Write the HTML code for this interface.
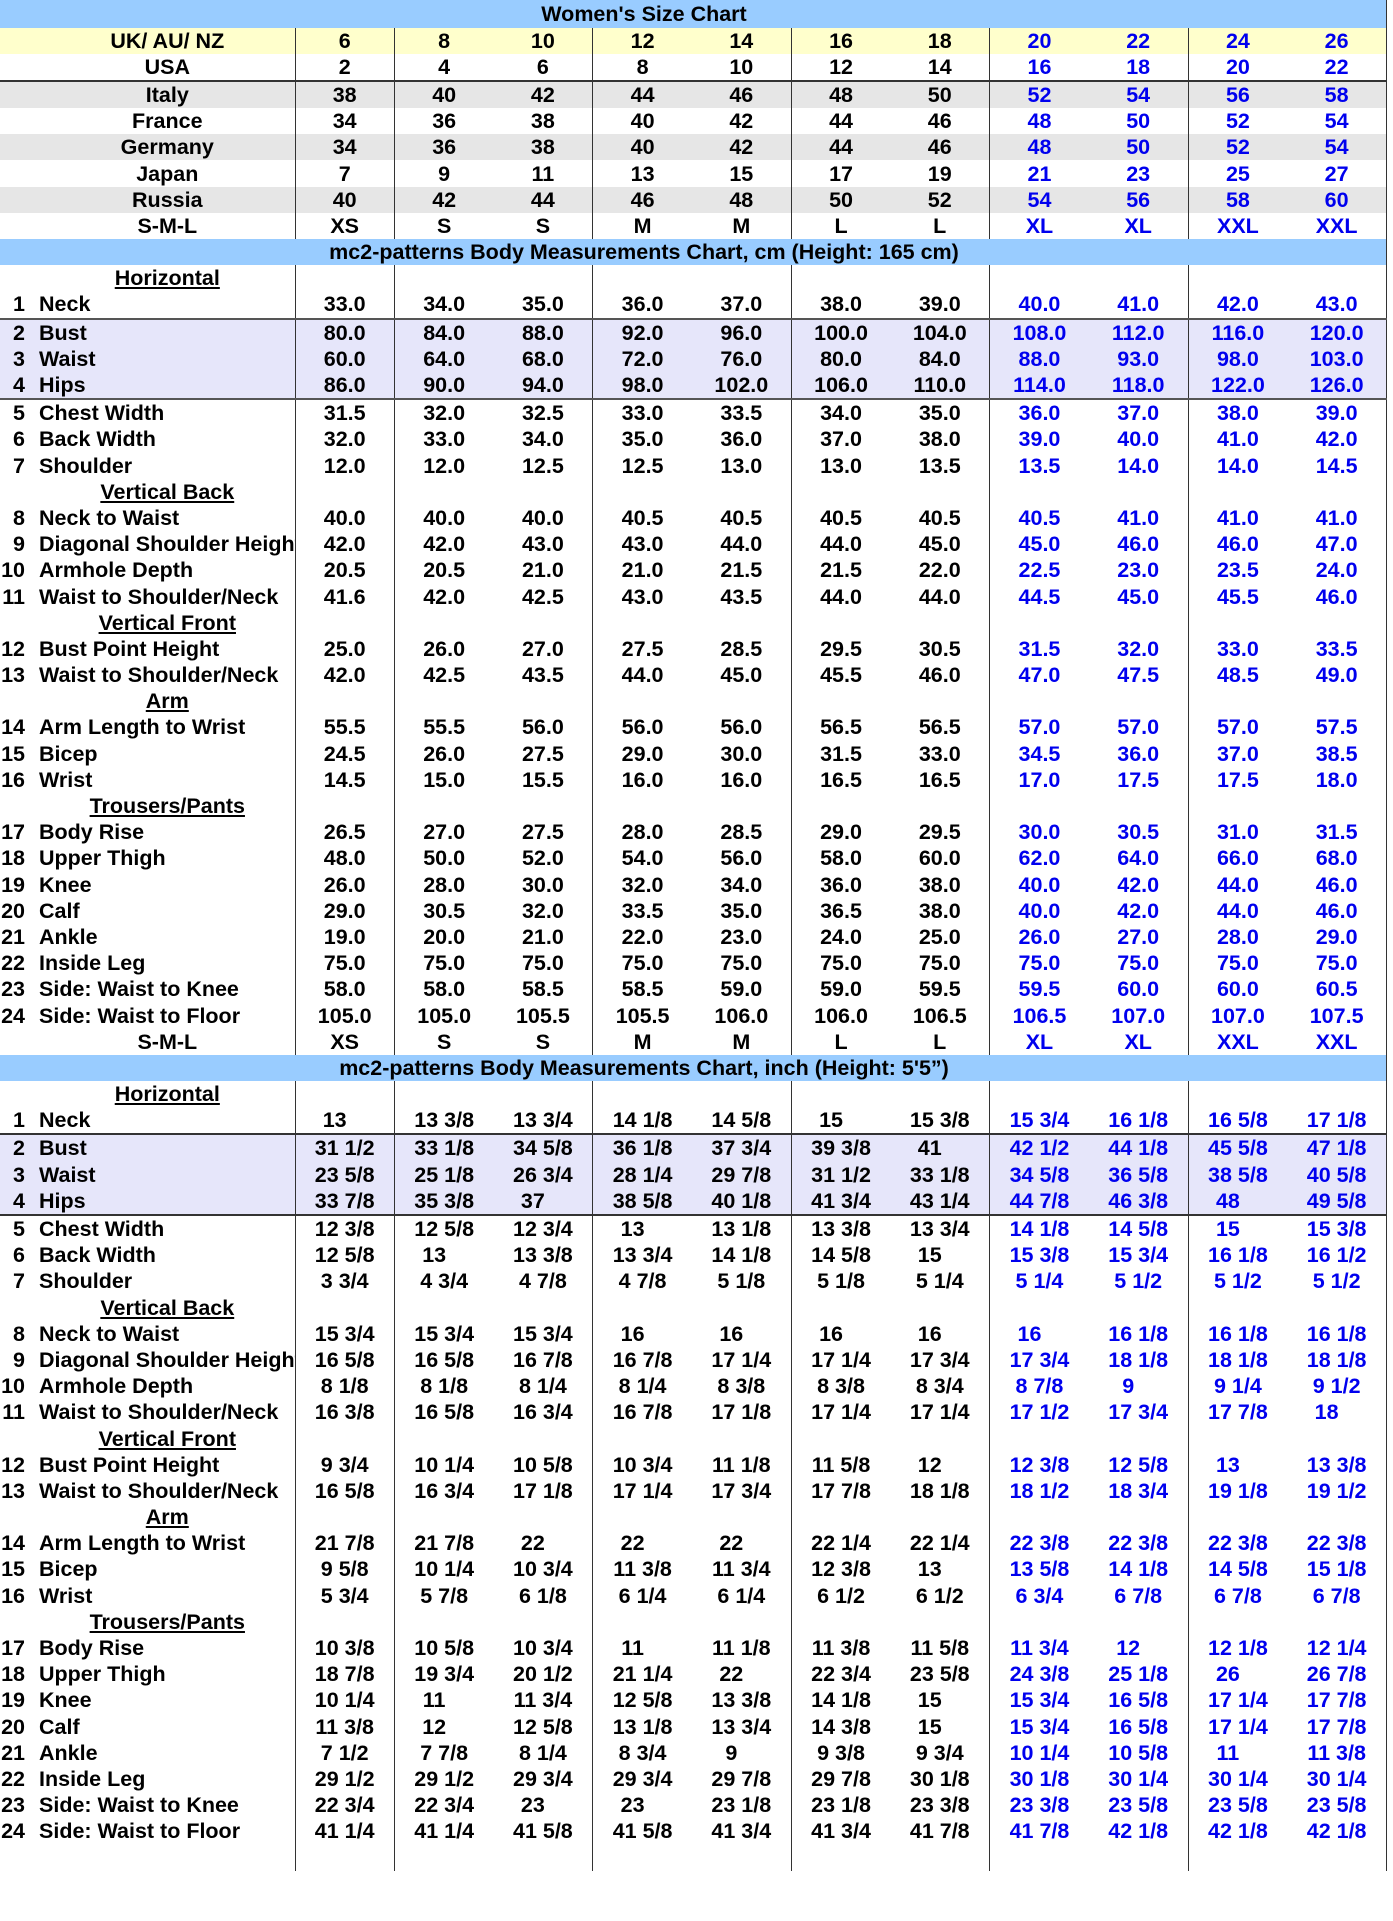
<!DOCTYPE html>
<html><head><meta charset="utf-8"><style>
body{margin:0;background:#fff;width:1393px;height:1921px;overflow:hidden;font-family:"Liberation Sans",Arial,sans-serif;font-weight:bold;font-size:21.5px;color:#000}
table{border-collapse:collapse;table-layout:fixed;width:1387px}
td{height:26.2px;padding:0;text-align:center;vertical-align:middle;white-space:nowrap;overflow:hidden;line-height:26px}
tr>td:nth-child(1){padding-left:40px}
tr>td.l{padding-left:0}
tr>td:nth-child(2),tr>td:nth-child(3),tr>td:nth-child(5),tr>td:nth-child(7),tr>td:nth-child(9),tr>td:nth-child(11){border-left:1px solid #333}
tr>td:nth-child(12){border-right:1px solid #333}
tr>td:nth-child(n+9){color:#0000ee}
tr.t td{background:#99ccff;color:#000;border-left:none;border-right:1px solid #333;padding-left:0;padding-right:98px}
tr.t0 td{height:27.5px}
tr.y td{background:#ffffcc}
tr.g td{background:#e6e6e6}
tr.v td{background:#e6e6fa}
tr.bb td{border-bottom:2px solid #333}
tr.bg td{border-bottom:2px solid #555}
td.l{text-align:left}
td.l i{font-style:normal;display:inline-block;width:25px;text-align:right;margin-right:14px}
td.h{text-decoration:underline}
.w{padding-right:20px}
</style></head><body>
<table>
<colgroup><col style="width:295px"><col span="11" style="width:99.2px"></colgroup>
<tr class="t t0"><td colspan="12">Women's Size Chart</td></tr>
<tr class="y"><td>UK/ AU/ NZ</td><td>6</td><td>8</td><td>10</td><td>12</td><td>14</td><td>16</td><td>18</td><td>20</td><td>22</td><td>24</td><td>26</td></tr>
<tr class="bb"><td>USA</td><td>2</td><td>4</td><td>6</td><td>8</td><td>10</td><td>12</td><td>14</td><td>16</td><td>18</td><td>20</td><td>22</td></tr>
<tr class="g"><td>Italy</td><td>38</td><td>40</td><td>42</td><td>44</td><td>46</td><td>48</td><td>50</td><td>52</td><td>54</td><td>56</td><td>58</td></tr>
<tr><td>France</td><td>34</td><td>36</td><td>38</td><td>40</td><td>42</td><td>44</td><td>46</td><td>48</td><td>50</td><td>52</td><td>54</td></tr>
<tr class="g"><td>Germany</td><td>34</td><td>36</td><td>38</td><td>40</td><td>42</td><td>44</td><td>46</td><td>48</td><td>50</td><td>52</td><td>54</td></tr>
<tr><td>Japan</td><td>7</td><td>9</td><td>11</td><td>13</td><td>15</td><td>17</td><td>19</td><td>21</td><td>23</td><td>25</td><td>27</td></tr>
<tr class="g"><td>Russia</td><td>40</td><td>42</td><td>44</td><td>46</td><td>48</td><td>50</td><td>52</td><td>54</td><td>56</td><td>58</td><td>60</td></tr>
<tr><td>S-M-L</td><td>XS</td><td>S</td><td>S</td><td>M</td><td>M</td><td>L</td><td>L</td><td>XL</td><td>XL</td><td>XXL</td><td>XXL</td></tr>
<tr class="t"><td colspan="12">mc2-patterns Body Measurements Chart, cm (Height: 165 cm)</td></tr>
<tr><td class="h">Horizontal</td><td></td><td></td><td></td><td></td><td></td><td></td><td></td><td></td><td></td><td></td><td></td></tr>
<tr class="bg"><td class="l"><i>1</i>Neck</td><td>33.0</td><td>34.0</td><td>35.0</td><td>36.0</td><td>37.0</td><td>38.0</td><td>39.0</td><td>40.0</td><td>41.0</td><td>42.0</td><td>43.0</td></tr>
<tr class="v"><td class="l"><i>2</i>Bust</td><td>80.0</td><td>84.0</td><td>88.0</td><td>92.0</td><td>96.0</td><td>100.0</td><td>104.0</td><td>108.0</td><td>112.0</td><td>116.0</td><td>120.0</td></tr>
<tr class="v"><td class="l"><i>3</i>Waist</td><td>60.0</td><td>64.0</td><td>68.0</td><td>72.0</td><td>76.0</td><td>80.0</td><td>84.0</td><td>88.0</td><td>93.0</td><td>98.0</td><td>103.0</td></tr>
<tr class="v bg"><td class="l"><i>4</i>Hips</td><td>86.0</td><td>90.0</td><td>94.0</td><td>98.0</td><td>102.0</td><td>106.0</td><td>110.0</td><td>114.0</td><td>118.0</td><td>122.0</td><td>126.0</td></tr>
<tr><td class="l"><i>5</i>Chest Width</td><td>31.5</td><td>32.0</td><td>32.5</td><td>33.0</td><td>33.5</td><td>34.0</td><td>35.0</td><td>36.0</td><td>37.0</td><td>38.0</td><td>39.0</td></tr>
<tr><td class="l"><i>6</i>Back Width</td><td>32.0</td><td>33.0</td><td>34.0</td><td>35.0</td><td>36.0</td><td>37.0</td><td>38.0</td><td>39.0</td><td>40.0</td><td>41.0</td><td>42.0</td></tr>
<tr><td class="l"><i>7</i>Shoulder</td><td>12.0</td><td>12.0</td><td>12.5</td><td>12.5</td><td>13.0</td><td>13.0</td><td>13.5</td><td>13.5</td><td>14.0</td><td>14.0</td><td>14.5</td></tr>
<tr><td class="h">Vertical Back</td><td></td><td></td><td></td><td></td><td></td><td></td><td></td><td></td><td></td><td></td><td></td></tr>
<tr><td class="l"><i>8</i>Neck to Waist</td><td>40.0</td><td>40.0</td><td>40.0</td><td>40.5</td><td>40.5</td><td>40.5</td><td>40.5</td><td>40.5</td><td>41.0</td><td>41.0</td><td>41.0</td></tr>
<tr><td class="l"><i>9</i>Diagonal Shoulder Height</td><td>42.0</td><td>42.0</td><td>43.0</td><td>43.0</td><td>44.0</td><td>44.0</td><td>45.0</td><td>45.0</td><td>46.0</td><td>46.0</td><td>47.0</td></tr>
<tr><td class="l"><i>10</i>Armhole Depth</td><td>20.5</td><td>20.5</td><td>21.0</td><td>21.0</td><td>21.5</td><td>21.5</td><td>22.0</td><td>22.5</td><td>23.0</td><td>23.5</td><td>24.0</td></tr>
<tr><td class="l"><i>11</i>Waist to Shoulder/Neck</td><td>41.6</td><td>42.0</td><td>42.5</td><td>43.0</td><td>43.5</td><td>44.0</td><td>44.0</td><td>44.5</td><td>45.0</td><td>45.5</td><td>46.0</td></tr>
<tr><td class="h">Vertical Front</td><td></td><td></td><td></td><td></td><td></td><td></td><td></td><td></td><td></td><td></td><td></td></tr>
<tr><td class="l"><i>12</i>Bust Point Height</td><td>25.0</td><td>26.0</td><td>27.0</td><td>27.5</td><td>28.5</td><td>29.5</td><td>30.5</td><td>31.5</td><td>32.0</td><td>33.0</td><td>33.5</td></tr>
<tr><td class="l"><i>13</i>Waist to Shoulder/Neck</td><td>42.0</td><td>42.5</td><td>43.5</td><td>44.0</td><td>45.0</td><td>45.5</td><td>46.0</td><td>47.0</td><td>47.5</td><td>48.5</td><td>49.0</td></tr>
<tr><td class="h">Arm</td><td></td><td></td><td></td><td></td><td></td><td></td><td></td><td></td><td></td><td></td><td></td></tr>
<tr><td class="l"><i>14</i>Arm Length to Wrist</td><td>55.5</td><td>55.5</td><td>56.0</td><td>56.0</td><td>56.0</td><td>56.5</td><td>56.5</td><td>57.0</td><td>57.0</td><td>57.0</td><td>57.5</td></tr>
<tr><td class="l"><i>15</i>Bicep</td><td>24.5</td><td>26.0</td><td>27.5</td><td>29.0</td><td>30.0</td><td>31.5</td><td>33.0</td><td>34.5</td><td>36.0</td><td>37.0</td><td>38.5</td></tr>
<tr><td class="l"><i>16</i>Wrist</td><td>14.5</td><td>15.0</td><td>15.5</td><td>16.0</td><td>16.0</td><td>16.5</td><td>16.5</td><td>17.0</td><td>17.5</td><td>17.5</td><td>18.0</td></tr>
<tr><td class="h">Trousers/Pants</td><td></td><td></td><td></td><td></td><td></td><td></td><td></td><td></td><td></td><td></td><td></td></tr>
<tr><td class="l"><i>17</i>Body Rise</td><td>26.5</td><td>27.0</td><td>27.5</td><td>28.0</td><td>28.5</td><td>29.0</td><td>29.5</td><td>30.0</td><td>30.5</td><td>31.0</td><td>31.5</td></tr>
<tr><td class="l"><i>18</i>Upper Thigh</td><td>48.0</td><td>50.0</td><td>52.0</td><td>54.0</td><td>56.0</td><td>58.0</td><td>60.0</td><td>62.0</td><td>64.0</td><td>66.0</td><td>68.0</td></tr>
<tr><td class="l"><i>19</i>Knee</td><td>26.0</td><td>28.0</td><td>30.0</td><td>32.0</td><td>34.0</td><td>36.0</td><td>38.0</td><td>40.0</td><td>42.0</td><td>44.0</td><td>46.0</td></tr>
<tr><td class="l"><i>20</i>Calf</td><td>29.0</td><td>30.5</td><td>32.0</td><td>33.5</td><td>35.0</td><td>36.5</td><td>38.0</td><td>40.0</td><td>42.0</td><td>44.0</td><td>46.0</td></tr>
<tr><td class="l"><i>21</i>Ankle</td><td>19.0</td><td>20.0</td><td>21.0</td><td>22.0</td><td>23.0</td><td>24.0</td><td>25.0</td><td>26.0</td><td>27.0</td><td>28.0</td><td>29.0</td></tr>
<tr><td class="l"><i>22</i>Inside Leg</td><td>75.0</td><td>75.0</td><td>75.0</td><td>75.0</td><td>75.0</td><td>75.0</td><td>75.0</td><td>75.0</td><td>75.0</td><td>75.0</td><td>75.0</td></tr>
<tr><td class="l"><i>23</i>Side: Waist to Knee</td><td>58.0</td><td>58.0</td><td>58.5</td><td>58.5</td><td>59.0</td><td>59.0</td><td>59.5</td><td>59.5</td><td>60.0</td><td>60.0</td><td>60.5</td></tr>
<tr><td class="l"><i>24</i>Side: Waist to Floor</td><td>105.0</td><td>105.0</td><td>105.5</td><td>105.5</td><td>106.0</td><td>106.0</td><td>106.5</td><td>106.5</td><td>107.0</td><td>107.0</td><td>107.5</td></tr>
<tr><td>S-M-L</td><td>XS</td><td>S</td><td>S</td><td>M</td><td>M</td><td>L</td><td>L</td><td>XL</td><td>XL</td><td>XXL</td><td>XXL</td></tr>
<tr class="t"><td colspan="12">mc2-patterns Body Measurements Chart, inch (Height: 5'5”)</td></tr>
<tr><td class="h">Horizontal</td><td></td><td></td><td></td><td></td><td></td><td></td><td></td><td></td><td></td><td></td><td></td></tr>
<tr class="bb"><td class="l"><i>1</i>Neck</td><td class="w">13</td><td>13 3/8</td><td>13 3/4</td><td>14 1/8</td><td>14 5/8</td><td class="w">15</td><td>15 3/8</td><td>15 3/4</td><td>16 1/8</td><td>16 5/8</td><td>17 1/8</td></tr>
<tr class="v"><td class="l"><i>2</i>Bust</td><td>31 1/2</td><td>33 1/8</td><td>34 5/8</td><td>36 1/8</td><td>37 3/4</td><td>39 3/8</td><td class="w">41</td><td>42 1/2</td><td>44 1/8</td><td>45 5/8</td><td>47 1/8</td></tr>
<tr class="v"><td class="l"><i>3</i>Waist</td><td>23 5/8</td><td>25 1/8</td><td>26 3/4</td><td>28 1/4</td><td>29 7/8</td><td>31 1/2</td><td>33 1/8</td><td>34 5/8</td><td>36 5/8</td><td>38 5/8</td><td>40 5/8</td></tr>
<tr class="v bb"><td class="l"><i>4</i>Hips</td><td>33 7/8</td><td>35 3/8</td><td class="w">37</td><td>38 5/8</td><td>40 1/8</td><td>41 3/4</td><td>43 1/4</td><td>44 7/8</td><td>46 3/8</td><td class="w">48</td><td>49 5/8</td></tr>
<tr><td class="l"><i>5</i>Chest Width</td><td>12 3/8</td><td>12 5/8</td><td>12 3/4</td><td class="w">13</td><td>13 1/8</td><td>13 3/8</td><td>13 3/4</td><td>14 1/8</td><td>14 5/8</td><td class="w">15</td><td>15 3/8</td></tr>
<tr><td class="l"><i>6</i>Back Width</td><td>12 5/8</td><td class="w">13</td><td>13 3/8</td><td>13 3/4</td><td>14 1/8</td><td>14 5/8</td><td class="w">15</td><td>15 3/8</td><td>15 3/4</td><td>16 1/8</td><td>16 1/2</td></tr>
<tr><td class="l"><i>7</i>Shoulder</td><td>3 3/4</td><td>4 3/4</td><td>4 7/8</td><td>4 7/8</td><td>5 1/8</td><td>5 1/8</td><td>5 1/4</td><td>5 1/4</td><td>5 1/2</td><td>5 1/2</td><td>5 1/2</td></tr>
<tr><td class="h">Vertical Back</td><td></td><td></td><td></td><td></td><td></td><td></td><td></td><td></td><td></td><td></td><td></td></tr>
<tr><td class="l"><i>8</i>Neck to Waist</td><td>15 3/4</td><td>15 3/4</td><td>15 3/4</td><td class="w">16</td><td class="w">16</td><td class="w">16</td><td class="w">16</td><td class="w">16</td><td>16 1/8</td><td>16 1/8</td><td>16 1/8</td></tr>
<tr><td class="l"><i>9</i>Diagonal Shoulder Height</td><td>16 5/8</td><td>16 5/8</td><td>16 7/8</td><td>16 7/8</td><td>17 1/4</td><td>17 1/4</td><td>17 3/4</td><td>17 3/4</td><td>18 1/8</td><td>18 1/8</td><td>18 1/8</td></tr>
<tr><td class="l"><i>10</i>Armhole Depth</td><td>8 1/8</td><td>8 1/8</td><td>8 1/4</td><td>8 1/4</td><td>8 3/8</td><td>8 3/8</td><td>8 3/4</td><td>8 7/8</td><td class="w">9</td><td>9 1/4</td><td>9 1/2</td></tr>
<tr><td class="l"><i>11</i>Waist to Shoulder/Neck</td><td>16 3/8</td><td>16 5/8</td><td>16 3/4</td><td>16 7/8</td><td>17 1/8</td><td>17 1/4</td><td>17 1/4</td><td>17 1/2</td><td>17 3/4</td><td>17 7/8</td><td class="w">18</td></tr>
<tr><td class="h">Vertical Front</td><td></td><td></td><td></td><td></td><td></td><td></td><td></td><td></td><td></td><td></td><td></td></tr>
<tr><td class="l"><i>12</i>Bust Point Height</td><td>9 3/4</td><td>10 1/4</td><td>10 5/8</td><td>10 3/4</td><td>11 1/8</td><td>11 5/8</td><td class="w">12</td><td>12 3/8</td><td>12 5/8</td><td class="w">13</td><td>13 3/8</td></tr>
<tr><td class="l"><i>13</i>Waist to Shoulder/Neck</td><td>16 5/8</td><td>16 3/4</td><td>17 1/8</td><td>17 1/4</td><td>17 3/4</td><td>17 7/8</td><td>18 1/8</td><td>18 1/2</td><td>18 3/4</td><td>19 1/8</td><td>19 1/2</td></tr>
<tr><td class="h">Arm</td><td></td><td></td><td></td><td></td><td></td><td></td><td></td><td></td><td></td><td></td><td></td></tr>
<tr><td class="l"><i>14</i>Arm Length to Wrist</td><td>21 7/8</td><td>21 7/8</td><td class="w">22</td><td class="w">22</td><td class="w">22</td><td>22 1/4</td><td>22 1/4</td><td>22 3/8</td><td>22 3/8</td><td>22 3/8</td><td>22 3/8</td></tr>
<tr><td class="l"><i>15</i>Bicep</td><td>9 5/8</td><td>10 1/4</td><td>10 3/4</td><td>11 3/8</td><td>11 3/4</td><td>12 3/8</td><td class="w">13</td><td>13 5/8</td><td>14 1/8</td><td>14 5/8</td><td>15 1/8</td></tr>
<tr><td class="l"><i>16</i>Wrist</td><td>5 3/4</td><td>5 7/8</td><td>6 1/8</td><td>6 1/4</td><td>6 1/4</td><td>6 1/2</td><td>6 1/2</td><td>6 3/4</td><td>6 7/8</td><td>6 7/8</td><td>6 7/8</td></tr>
<tr><td class="h">Trousers/Pants</td><td></td><td></td><td></td><td></td><td></td><td></td><td></td><td></td><td></td><td></td><td></td></tr>
<tr><td class="l"><i>17</i>Body Rise</td><td>10 3/8</td><td>10 5/8</td><td>10 3/4</td><td class="w">11</td><td>11 1/8</td><td>11 3/8</td><td>11 5/8</td><td>11 3/4</td><td class="w">12</td><td>12 1/8</td><td>12 1/4</td></tr>
<tr><td class="l"><i>18</i>Upper Thigh</td><td>18 7/8</td><td>19 3/4</td><td>20 1/2</td><td>21 1/4</td><td class="w">22</td><td>22 3/4</td><td>23 5/8</td><td>24 3/8</td><td>25 1/8</td><td class="w">26</td><td>26 7/8</td></tr>
<tr><td class="l"><i>19</i>Knee</td><td>10 1/4</td><td class="w">11</td><td>11 3/4</td><td>12 5/8</td><td>13 3/8</td><td>14 1/8</td><td class="w">15</td><td>15 3/4</td><td>16 5/8</td><td>17 1/4</td><td>17 7/8</td></tr>
<tr><td class="l"><i>20</i>Calf</td><td>11 3/8</td><td class="w">12</td><td>12 5/8</td><td>13 1/8</td><td>13 3/4</td><td>14 3/8</td><td class="w">15</td><td>15 3/4</td><td>16 5/8</td><td>17 1/4</td><td>17 7/8</td></tr>
<tr><td class="l"><i>21</i>Ankle</td><td>7 1/2</td><td>7 7/8</td><td>8 1/4</td><td>8 3/4</td><td class="w">9</td><td>9 3/8</td><td>9 3/4</td><td>10 1/4</td><td>10 5/8</td><td class="w">11</td><td>11 3/8</td></tr>
<tr><td class="l"><i>22</i>Inside Leg</td><td>29 1/2</td><td>29 1/2</td><td>29 3/4</td><td>29 3/4</td><td>29 7/8</td><td>29 7/8</td><td>30 1/8</td><td>30 1/8</td><td>30 1/4</td><td>30 1/4</td><td>30 1/4</td></tr>
<tr><td class="l"><i>23</i>Side: Waist to Knee</td><td>22 3/4</td><td>22 3/4</td><td class="w">23</td><td class="w">23</td><td>23 1/8</td><td>23 1/8</td><td>23 3/8</td><td>23 3/8</td><td>23 5/8</td><td>23 5/8</td><td>23 5/8</td></tr>
<tr><td class="l"><i>24</i>Side: Waist to Floor</td><td>41 1/4</td><td>41 1/4</td><td>41 5/8</td><td>41 5/8</td><td>41 3/4</td><td>41 3/4</td><td>41 7/8</td><td>41 7/8</td><td>42 1/8</td><td>42 1/8</td><td>42 1/8</td></tr>
<tr><td></td><td></td><td></td><td></td><td></td><td></td><td></td><td></td><td></td><td></td><td></td><td></td></tr>
</table>
</body></html>
